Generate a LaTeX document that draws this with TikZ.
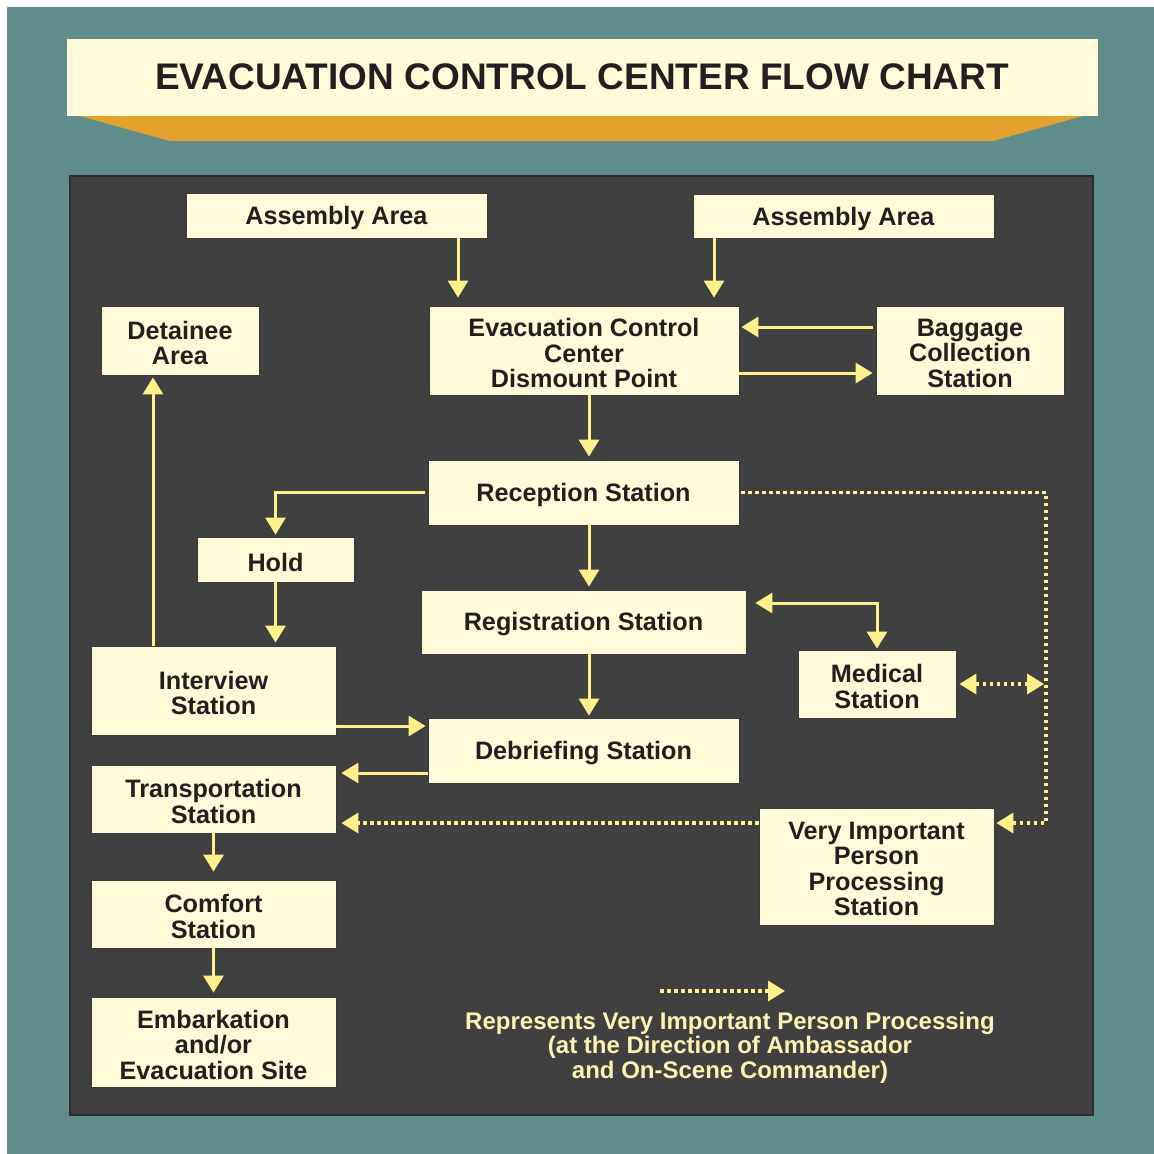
\documentclass[tikz,border=0pt]{standalone}
\usepackage{fontspec}
\setmainfont{Liberation Sans}
\usetikzlibrary{arrows.meta}
\definecolor{teal0}{HTML}{5F8D8B}
\definecolor{orng}{HTML}{E3A22E}
\definecolor{panel}{HTML}{404040}
\definecolor{panelbd}{HTML}{2C2C2C}
\definecolor{boxfill}{HTML}{FFFAD7}
\definecolor{boxbd}{HTML}{3A3A3A}
\definecolor{txt}{HTML}{231F20}
\definecolor{arrc}{HTML}{FFF08C}
\definecolor{legc}{HTML}{FFF3B4}
\tikzset{
  x=1pt, y=-1pt,
  stationbox/.style={draw=boxbd, line width=0.8pt, fill=boxfill, inner sep=0pt, anchor=center,
    label={[stationtext]center:#1}},
  stationtext/.style={text=txt, inner sep=0pt, align=center, yshift=-2.5pt,
    font=\fontsize{25.2}{25.5}\selectfont\bfseries},
  arr/.style={draw=arrc, line width=3pt, -{Triangle[length=17pt,width=20pt]}},
  darr/.style={draw=arrc, line width=3pt, {Triangle[length=17pt,width=20pt]}-{Triangle[length=17pt,width=20pt]}},
  dotarr/.style={draw=arrc, line width=3.5pt, dash pattern=on 3.5pt off 3.5pt, -{Triangle[length=17pt,width=20pt]}},
  ddotarr/.style={draw=arrc, line width=3.5pt, dash pattern=on 3.5pt off 3.5pt, {Triangle[length=17pt,width=20pt]}-{Triangle[length=17pt,width=20pt]}},
}
\begin{document}
\begin{tikzpicture}
\useasboundingbox (0,0) rectangle (1154,1154);
\fill[white] (0,0) rectangle (1154,1154);
\fill[teal0] (7,7) rectangle (1154,1154);
% title banner
\fill[orng] (80,116) -- (1083,116) -- (993,141) -- (170,141) -- cycle;
\fill[boxfill] (67,39) rectangle (1098,116);
\node[text=txt, font=\fontsize{37}{40}\selectfont\bfseries] (title) at (582,77) {EVACUATION CONTROL CENTER FLOW CHART};
% panel
\filldraw[fill=panel, draw=panelbd, line width=1.5pt] (70,176) rectangle (1093,1115);
% boxes
\node[stationbox={Assembly Area}, minimum width=301pt, minimum height=45pt] (aa1) at (336.5,215.5) {};
\node[stationbox={Assembly Area}, minimum width=301pt, minimum height=44pt] (aa2) at (843.5,216) {};
\node[stationbox={Detainee\\Area}, minimum width=158pt, minimum height=69pt] (det) at (180,340.5) {};
\node[stationbox={Evacuation Control\\Center\\Dismount Point}, minimum width=310pt, minimum height=89pt] (ecc) at (584,350.5) {};
\node[stationbox={Baggage\\Collection\\Station}, minimum width=188pt, minimum height=89pt] (bag) at (970,350.5) {};
\node[stationbox={Reception Station}, minimum width=311pt, minimum height=65pt] (rec) at (583.5,492.5) {};
\node[stationbox={Hold}, minimum width=157pt, minimum height=45pt] (hold) at (275.5,559.5) {};
\node[stationbox={Registration Station}, minimum width=325pt, minimum height=64pt] (reg) at (583.5,622) {};
\node[stationbox={Medical\\Station}, minimum width=158pt, minimum height=68pt] (med) at (877,684) {};
\node[stationbox={Interview\\Station}, minimum width=245pt, minimum height=89pt] (int) at (213.5,690.5) {};
\node[stationbox={Debriefing Station}, minimum width=311pt, minimum height=65pt] (deb) at (583.5,750.5) {};
\node[stationbox={Transportation\\Station}, minimum width=245pt, minimum height=68pt] (trans) at (213.5,799) {};
\node[stationbox={Very Important\\Person\\Processing\\Station}, minimum width=235pt, minimum height=117pt] (vip) at (876.5,866.5) {};
\node[stationbox={Comfort\\Station}, minimum width=245pt, minimum height=68pt] (comf) at (213.5,914) {};
\node[stationbox={Embarkation\\and/or\\Evacuation Site}, minimum width=245pt, minimum height=90pt] (emb) at (213.5,1042) {};
% helper coordinates
\coordinate (dc) at (1046,600);
\coordinate (legA) at (660,991);
\coordinate (legB) at (785,991);
% solid arrows
\draw[arr, shorten >=8pt] ([xshift=121.5pt]aa1.south) -- ([xshift=121.5pt]aa1.south |- ecc.north);
\draw[arr, shorten >=8pt] ([xshift=-129.5pt]aa2.south) -- ([xshift=-129.5pt]aa2.south |- ecc.north);
\draw[arr, shorten <=3pt, shorten >=2pt] ([yshift=23.5pt]bag.west) -- ([yshift=23.5pt]bag.west -| ecc.east);
\draw[arr, shorten >=3pt] ([yshift=-22.5pt]ecc.east) -- ([yshift=-22.5pt]ecc.east -| bag.west);
\draw[arr, shorten >=3pt] ([xshift=5pt]ecc.south) -- ([xshift=5pt]ecc.south |- rec.north);
\draw[arr, shorten <=3pt, shorten >=2pt] (rec.west) -| (hold.north);
\draw[arr, shorten >=3pt] ([xshift=5.5pt]rec.south) -- ([xshift=5.5pt]rec.south |- reg.north);
\draw[darr, shorten <=9pt, shorten >=1pt] ([yshift=19pt]reg.east) -| (med.north);
\draw[arr, shorten >=3pt] (hold.south) -- (hold.south |- int.north);
\draw[arr, shorten >=2pt] ([xshift=-27pt]det.south |- int.north) -- ([xshift=-27pt]det.south);
\draw[arr, shorten >=2pt] ([xshift=5.5pt]reg.south) -- ([xshift=5.5pt]reg.south |- deb.north);
\draw[arr, shorten >=2pt] ([yshift=24.5pt]deb.west -| int.east) -- ([yshift=24.5pt]deb.west);
\draw[arr, shorten >=5pt] ([yshift=-22.5pt]deb.west) -- ([yshift=-22.5pt]deb.west -| trans.east);
\draw[arr, shorten >=8pt] (trans.south) -- (trans.south |- comf.north);
\draw[arr, shorten >=4pt] (comf.south) -- (comf.south |- emb.north);
% dotted arrows
\draw[dotarr, shorten <=2pt, shorten >=2pt] (rec.east) -| (dc) |- ([yshift=43.5pt]vip.east);
\draw[ddotarr, shorten <=3pt, shorten >=2pt] (med.east) -- (med.east -| dc);
\draw[dotarr, shorten >=5pt] ([yshift=43.5pt]vip.west) -- ([yshift=43.5pt]vip.west -| trans.east);
\draw[dotarr] (legA) -- (legB);
% legend
\node[text=legc, align=center, font=\fontsize{24}{24.5}\selectfont\bfseries] (leg) at (730,1047.5) {Represents Very Important Person Processing\\(at the Direction of Ambassador\\and On-Scene Commander)};
\end{tikzpicture}
\end{document}
